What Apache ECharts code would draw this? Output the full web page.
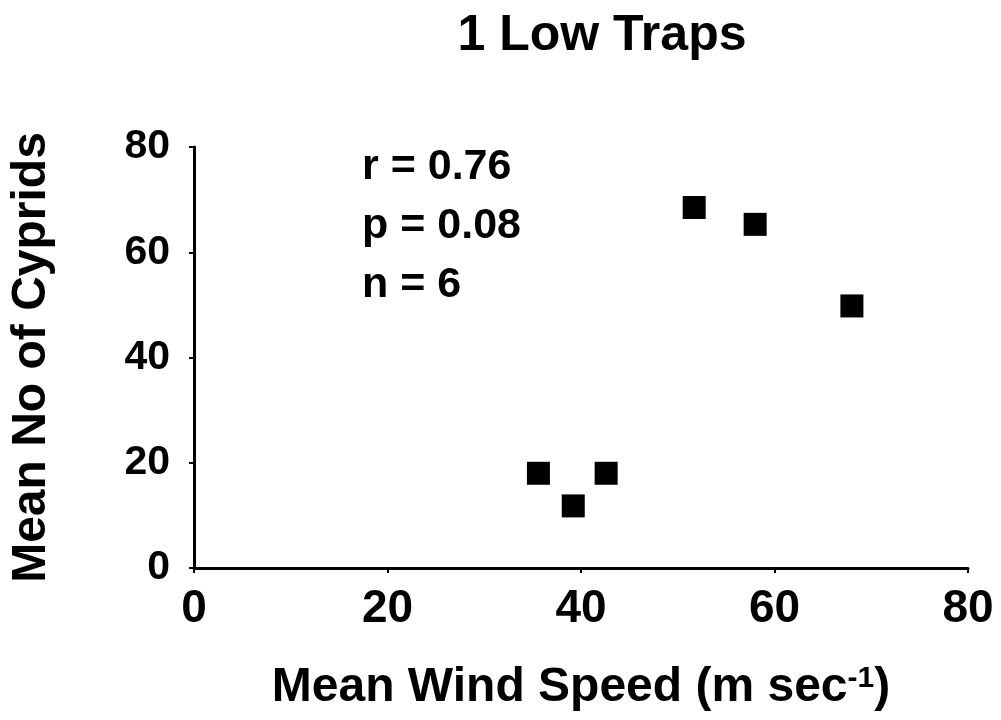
<!DOCTYPE html>
<html>
<head>
<meta charset="utf-8">
<script src="https://cdn.jsdelivr.net/npm/echarts@6/dist/echarts.min.js"></script>
<style>
html,body{margin:0;padding:0;background:#fff;}
#chart{width:1001px;height:720px;}
</style>
</head>
<body>
<div id="chart"></div>
<script>
const windSpeed = [35.6, 39.2, 42.6, 51.7, 58.0, 68.0];
const cyprids = [18.0, 11.8, 18.0, 68.5, 65.3, 49.8];
const statsLines = ['r = 0.76', 'p = 0.08', 'n = 6'];
const titleText = '1 Low Traps';
const xName = 'Mean Wind Speed (m sec';
const xNameSup = '-1';
const yName = 'Mean No of Cyprids';

const FONT = '"Liberation Sans", Arial, Helvetica, sans-serif';
const chart = echarts.init(document.getElementById('chart'), null, {renderer: 'canvas'});

const points = windSpeed.map((x, i) => [x, cyprids[i]]);

chart.setOption({
  backgroundColor: '#fff',
  animation: false,
  title: {
    text: titleText,
    left: 597, textAlign: 'center',
    top: 6,
    textStyle: {fontFamily: FONT, fontWeight: 'bold', fontSize: 50, color: '#000'}
  },
  grid: {left: 192, right: 33, top: 147, bottom: 152, containLabel: false},
  xAxis: {
    type: 'value', min: 0, max: 80, interval: 20,
    name: xName + '{sup|' + xNameSup + '})',
    nameLocation: 'middle', nameGap: 96,
    nameTextStyle: {
      fontFamily: FONT, fontWeight: 'bold', fontSize: 48, color: '#000',
      rich: {sup: {fontFamily: FONT, fontWeight: 'bold', fontSize: 30, color: '#000', verticalAlign: 'top'}}
    },
    axisLine: {lineStyle: {color: '#000', width: 3}},
    axisTick: {show: true, length: 5, lineStyle: {color: '#000', width: 2}},
    axisLabel: {fontFamily: FONT, fontWeight: 'bold', fontSize: 46, color: '#000', margin: 18},
    splitLine: {show: false}
  },
  yAxis: {
    type: 'value', min: 0, max: 80, interval: 20,
    name: yName, nameLocation: 'middle', nameRotate: 90, nameGap: 138,
    nameTextStyle: {fontFamily: FONT, fontWeight: 'bold', fontSize: 48, color: '#000'},
    axisLine: {show: true, lineStyle: {color: '#000', width: 3}},
    axisTick: {show: true, length: 5, lineStyle: {color: '#000', width: 2}},
    axisLabel: {fontFamily: FONT, fontWeight: 'bold', fontSize: 41, color: '#000', margin: 24},
    splitLine: {show: false}
  },
  graphic: statsLines.map((t, i) => ({
    type: 'text', left: 362, top: 146 + i * 59,
    style: {text: t, fontFamily: FONT, fontWeight: 'bold', fontSize: 43, fill: '#000'}
  })),
  series: [{
    type: 'scatter',
    data: points,
    symbol: 'rect',
    symbolSize: 23,
    itemStyle: {color: '#000', opacity: 1}
  }]
});
</script>
</body>
</html>
